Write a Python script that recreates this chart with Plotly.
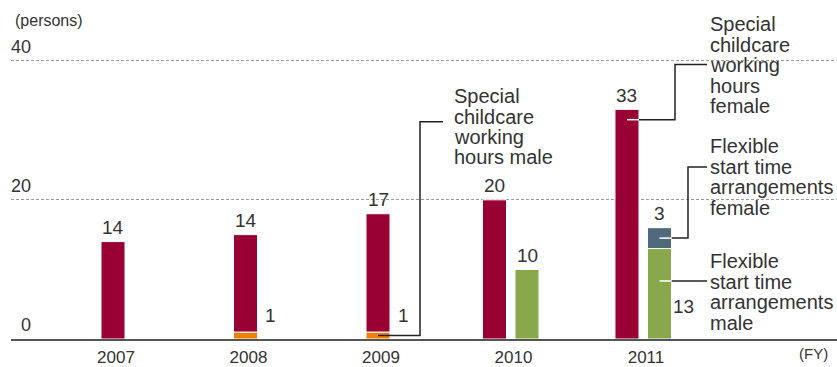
import plotly.graph_objects as go

# ---- data -------------------------------------------------------------
years = ["2007", "2008", "2009", "2010", "2011"]
childcare_female = [14, 14, 17, 20, 33]
childcare_male = [0, 1, 1, 0, 0]
flextime_male = [0, 0, 0, 10, 13]
flextime_female = [0, 0, 0, 0, 3]
y_ticks = [0, 20, 40]

# ---- colours / fonts ----------------------------------------------------
RED, ORANGE, GREEN, SLATE = "#990033", "#EE8100", "#89A84C", "#4E6A7C"
TEXT = "#333333"
FONT = "Liberation Sans, Arial, Helvetica, sans-serif"

# ---- figure geometry (pixels) --------------------------------------------
W, H = 837, 367
ML, MR, MT, MB = 11, 0, 40, 23
PW, PH = W - ML - MR, H - MT - MB
X_RANGE = [-0.7698, 5.4642]
Y_RANGE = [0, 42.97]
UNIT = PW / (X_RANGE[1] - X_RANGE[0])          # pixels per category step

BAR_W = 24 / UNIT
OFF_SINGLE = -12 / UNIT
OFF_PAIR_LEFT = -28 / UNIT
OFF_PAIR_RIGHT = 4.5 / UNIT


def xpx(v):
    return ML + (v - X_RANGE[0]) / (X_RANGE[1] - X_RANGE[0]) * PW


def ypx(v):
    return MT + PH - (v - Y_RANGE[0]) / (Y_RANGE[1] - Y_RANGE[0]) * PH


def paper_x(px):
    return (px - ML) / PW


def paper_y(py):
    return (MT + PH - py) / PH


def nz(vals):
    return [v if v else None for v in vals]


has_flex = [bool(m or f) for m, f in zip(flextime_male, flextime_female)]
childcare_off = [OFF_PAIR_LEFT if h else OFF_SINGLE for h in has_flex]
flex_off = [OFF_PAIR_RIGHT] * len(years)

fig = go.Figure()
bar_line = dict(color="white", width=1)
fig.add_bar(x=years, y=nz(childcare_male), base=[0] * len(years),
            offset=childcare_off, width=BAR_W, marker=dict(color=ORANGE, line=bar_line),
            name="Special childcare working hours male")
fig.add_bar(x=years, y=nz(childcare_female), base=childcare_male,
            offset=childcare_off, width=BAR_W, marker=dict(color=RED, line=bar_line),
            name="Special childcare working hours female")
fig.add_bar(x=years, y=nz(flextime_male), base=[0] * len(years),
            offset=flex_off, width=BAR_W, marker=dict(color=GREEN, line=bar_line),
            name="Flexible start time arrangements male")
fig.add_bar(x=years, y=nz(flextime_female), base=flextime_male,
            offset=flex_off, width=BAR_W, marker=dict(color=SLATE, line=bar_line),
            name="Flexible start time arrangements female")

annotations = []
shapes = []


def label(text, x, y, size=19, xanchor="center", yanchor="middle",
          xref="x", yref="y", xshift=0, yshift=0):
    annotations.append(dict(text=text, x=x, y=y, xref=xref, yref=yref,
                            xanchor=xanchor, yanchor=yanchor, showarrow=False,
                            xshift=xshift, yshift=yshift,
                            font=dict(family=FONT, size=size, color=TEXT)))


# value labels above the stacks
for i, yr in enumerate(years):
    cx = i + childcare_off[i] + BAR_W / 2
    label(str(childcare_female[i]), cx, childcare_male[i] + childcare_female[i], yshift=14)
    if has_flex[i]:
        fx = i + flex_off[i] + BAR_W / 2
        if flextime_female[i]:
            label(str(flextime_female[i]), fx, flextime_male[i] + flextime_female[i], yshift=14)
        else:
            label(str(flextime_male[i]), fx, flextime_male[i], yshift=14)

# value labels beside thin / lower segments
for i, yr in enumerate(years):
    if childcare_male[i]:
        right = i + childcare_off[i] + BAR_W
        label(str(childcare_male[i]), right, childcare_male[i], xshift=13, yshift=17)
    if flextime_male[i] and flextime_female[i]:
        right = i + flex_off[i] + BAR_W
        label(str(flextime_male[i]), right, flextime_male[i], xshift=12.5, yshift=-58)

# y tick labels sitting on the grid lines
for t in y_ticks:
    label(str(t), paper_x(33), t, size=18, xanchor="right", xref="paper", yshift=14)

label("(persons)", paper_x(13), paper_y(20), size=16, xanchor="left",
      xref="paper", yref="paper")
label("(FY)", paper_x(797), paper_y(359), size=15, xanchor="left",
      xref="paper", yref="paper")

# ---- callouts with leader lines ---------------------------------------------
LINE_STEP = 20.8
INK = "#222222"


def callout(lines, text_x, first_y, path_px, inner=None):
    for j, ln in enumerate(lines):
        label(ln, paper_x(text_x), paper_y(first_y + j * LINE_STEP), size=20,
              xanchor="left", xref="paper", yref="paper")
    d = " ".join(("M" if j == 0 else "L") + f"{paper_x(px):.5f},{paper_y(py):.5f}"
                 for j, (px, py) in enumerate(path_px))
    shapes.append(dict(type="path", path=d, xref="paper", yref="paper",
                       line=dict(color=INK, width=1.5), layer="above"))
    if inner:
        (x0, y0), (x1, y1) = inner
        shapes.append(dict(type="line", xref="paper", yref="paper",
                           x0=paper_x(x0), y0=paper_y(y0), x1=paper_x(x1), y1=paper_y(y1),
                           line=dict(color="white", width=1.5), layer="above"))


# childcare male (2009 orange segment)
i = years.index("2009")
c = xpx(i + childcare_off[i] + BAR_W / 2)
ym = ypx(childcare_male[i] / 2)
callout(["Special", "childcare", "working", "hours male"], 452, 97,
        [(c, ym), (420, ym), (420, 123), (443, 123)])

# childcare female (2011 red bar)
i = years.index("2011")
c = xpx(i + childcare_off[i] + BAR_W / 2)
r = xpx(i + childcare_off[i] + BAR_W)
callout(["Special", "childcare", "working", "hours", "female"], 708, 24,
        [(r, 121), (675, 121), (675, 65), (707, 65)], inner=[(c, 121), (r, 121)])

# flexible female (2011 slate segment)
c = xpx(i + flex_off[i] + BAR_W / 2)
r = xpx(i + flex_off[i] + BAR_W)
yb = ypx(flextime_male[i] + flextime_female[i] / 2)
callout(["Flexible", "start time", "arrangements", "female"], 708, 148,
        [(r, yb), (688, yb), (688, 169), (707, 169)], inner=[(c, yb), (r, yb)])

# flexible male (2011 green segment)
callout(["Flexible", "start time", "arrangements", "male"], 708, 265,
        [(r, 285), (707, 285)], inner=[(c, 285), (r, 285)])

fig.update_layout(
    width=W, height=H,
    margin=dict(l=ML, r=MR, t=MT, b=MB, pad=0),
    paper_bgcolor="white", plot_bgcolor="white",
    barmode="overlay", showlegend=False,
    annotations=annotations, shapes=shapes,
    font=dict(family=FONT, color=TEXT),
    xaxis=dict(type="category", categoryorder="array", categoryarray=years,
               range=X_RANGE, showgrid=False, zeroline=False,
               showline=True, linecolor="#555555", linewidth=1.5,
               ticks="", ticklabelshift=3, ticklabelstandoff=2,
               tickfont=dict(family=FONT, size=17, color=TEXT)),
    yaxis=dict(range=Y_RANGE, tickvals=[t for t in y_ticks if t > 0],
               showticklabels=False, ticks="",
               showgrid=True, gridcolor="#9a9a9a", gridwidth=1, griddash="3px,2px",
               zeroline=False, showline=False),
)

fig.write_html("out.html")
